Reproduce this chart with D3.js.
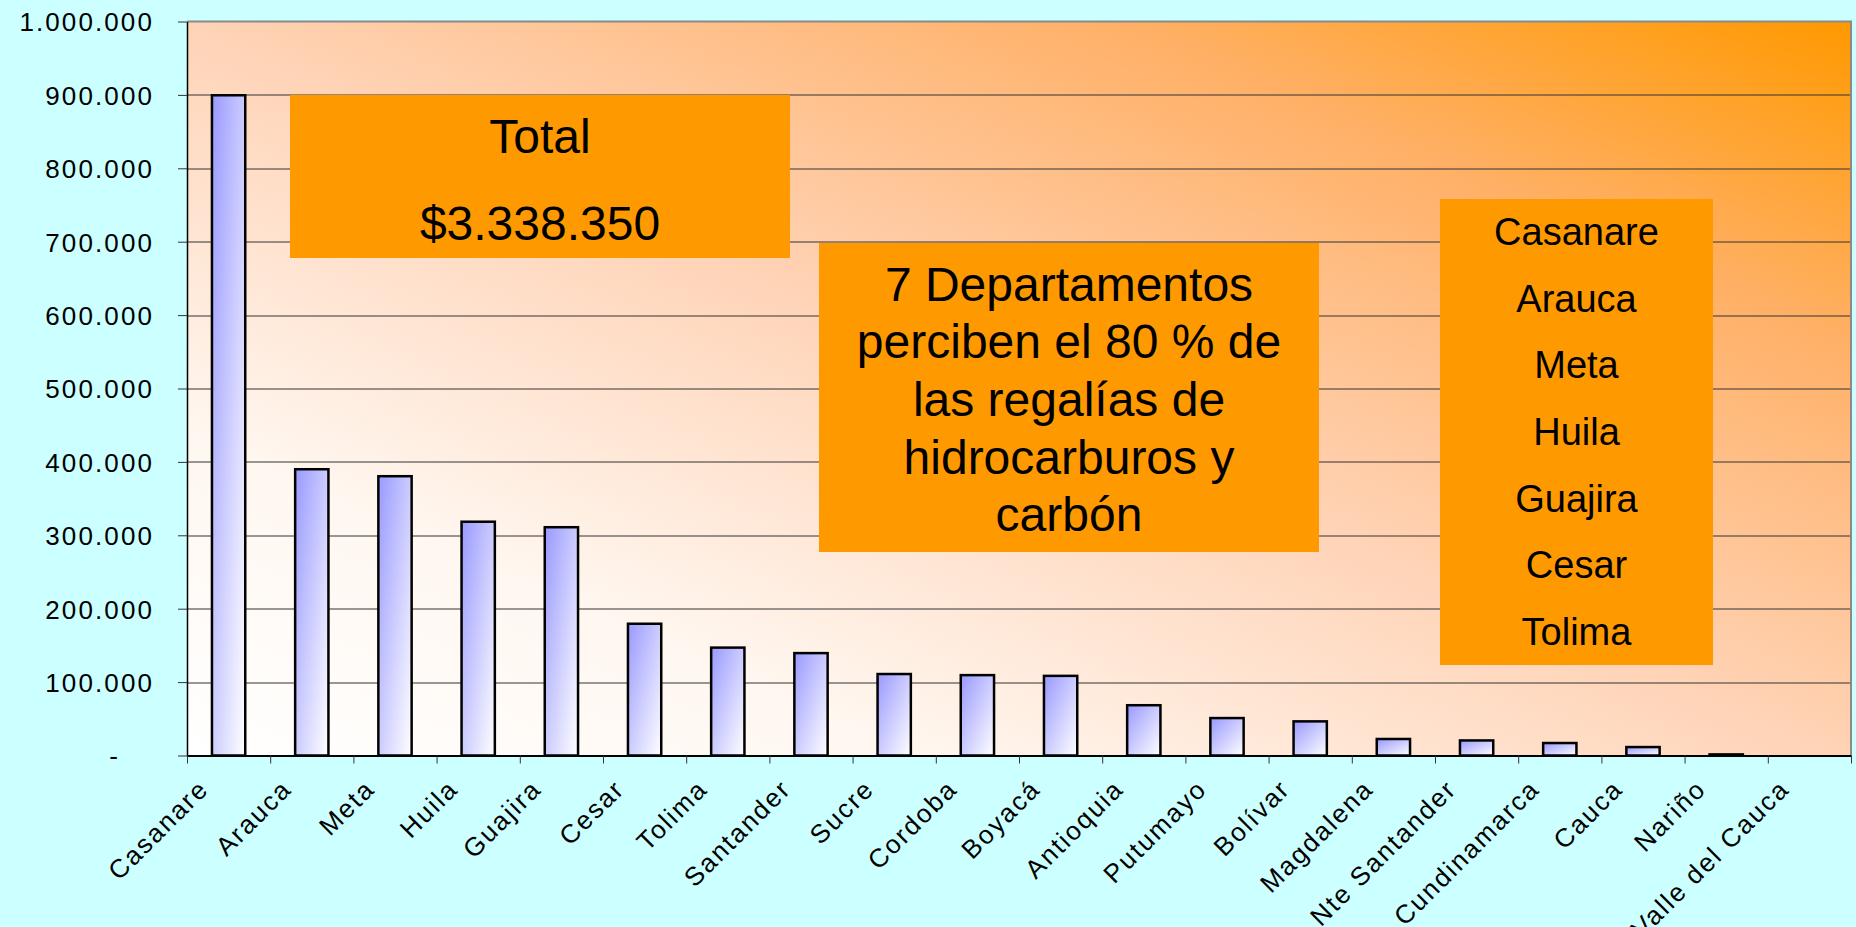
<!DOCTYPE html>
<html>
<head>
<meta charset="utf-8">
<script src="https://cdn.jsdelivr.net/npm/d3@7"></script>
<style>
    body { margin: 0; background: #ccffff; }
    svg { display: block; font-family: "Liberation Sans", Arial, Helvetica, sans-serif; }
</style>
</head>
<body>
<div id="chart"></div>
<script>
// departamentos, ordered as in the chart
var categories = ["Casanare", "Arauca", "Meta", "Huila", "Guajira", "Cesar", "Tolima", "Santander",
    "Sucre", "Cordoba", "Boyacá", "Antioquia", "Putumayo", "Bolívar", "Magdalena", "Nte Santander",
    "Cundinamarca", "Cauca", "Nariño", "Valle del Cauca"];

// regalías (millones de pesos)
var values = [899500, 390000, 380500, 318500, 311000, 179500, 147000, 139500,
    111000, 109500, 108500, 68500, 51000, 46500, 22500, 20500,
    17000, 11500, 1500, 0];

var yTicks = [0, 100000, 200000, 300000, 400000, 500000, 600000, 700000, 800000, 900000, 1000000];

var totalLines = ["Total", "$3.338.350"];
var noteLines = ["7 Departamentos", "perciben el 80 % de", "las regalías de", "hidrocarburos y", "carbón"];
var topDepartments = ["Casanare", "Arauca", "Meta", "Huila", "Guajira", "Cesar", "Tolima"];

(function () {
    var width = 1856, height = 927;
    var margin = {top: 21.5, right: 5, bottom: 171.5, left: 187};
    var w = width - margin.left - margin.right;
    var h = height - margin.top - margin.bottom;
    var ySpace = 2.1, xSpace = 2.0;
    var axisFont = "26px";

    var svg = d3.select("#chart")
        .append("svg")
        .attr("width", width)
        .attr("height", height);

    var defs = svg.append("defs");

    // plot background: orange in the top right corner, white in the bottom left
    var bg = defs.append("linearGradient")
        .attr("id", "plotBg")
        .attr("x1", "100%").attr("y1", "0%")
        .attr("x2", "0%").attr("y2", "100%");
    [[0, "#ff9900"], [0.22, "#ffb066"], [0.5, "#ffd3b6"], [0.78, "#fff7f0"], [1, "#ffffff"]].forEach(function (s) {
        bg.append("stop").attr("offset", s[0]).attr("stop-color", s[1]);
    });

    var barGrad = defs.append("linearGradient")
        .attr("id", "barFill")
        .attr("x1", "0%").attr("y1", "0%")
        .attr("x2", "100%").attr("y2", "100%");
    barGrad.append("stop").attr("offset", 0).attr("stop-color", "#9999ff");
    barGrad.append("stop").attr("offset", 1).attr("stop-color", "#ffffff");

    var g = svg.append("g")
        .attr("transform", "translate(" + margin.left + "," + margin.top + ")");

    var x = d3.scaleBand()
        .domain(categories)
        .range([0, w])
        .paddingInner(0.6)
        .paddingOuter(0.3);

    var y = d3.scaleLinear()
        .domain([0, 1000000])
        .range([h, 0]);

    g.append("rect")
        .attr("width", w)
        .attr("height", h)
        .attr("fill", "url(#plotBg)");

    // gridlines
    g.selectAll(".grid")
        .data(yTicks.filter(function (v) { return v > 0 && v < 1000000; }))
        .enter().append("line")
        .attr("class", "grid")
        .attr("x1", 0)
        .attr("x2", w)
        .attr("y1", function (d) { return Math.round(y(d)) + 0.5; })
        .attr("y2", function (d) { return Math.round(y(d)) + 0.5; })
        .attr("stroke", "#333")
        .attr("stroke-width", 1);

    // plot border, top and right
    g.append("path")
        .attr("d", "M0,0H" + w + "V" + h)
        .attr("fill", "none")
        .attr("stroke", "#8a8a8a")
        .attr("stroke-width", 2);

    g.selectAll(".bar")
        .data(values.map(function (v, i) { return {name: categories[i], value: v}; })
            .filter(function (d) { return d.value > 0; }))
        .enter().append("rect")
        .attr("class", "bar")
        .attr("x", function (d) { return x(d.name); })
        .attr("y", function (d) { return y(d.value); })
        .attr("width", x.bandwidth())
        .attr("height", function (d) { return h - y(d.value); })
        .attr("fill", "url(#barFill)")
        .attr("stroke", "#000")
        .attr("stroke-width", 2.5);

    // y axis, numbers with dots as thousands separator
    var fmt = d3.formatLocale({decimal: ",", thousands: ".", grouping: [3], currency: ["$", ""]}).format(",d");
    var yAxis = g.append("g")
        .attr("class", "axis axis--y")
        .call(d3.axisLeft(y)
            .tickValues(yTicks)
            .tickSize(9)
            .tickSizeOuter(0)
            .tickPadding(24)
            .tickFormat(function (d) { return d === 0 ? "-" : fmt(d); }));
    yAxis.select(".domain").attr("stroke", "#000").attr("stroke-width", 1.5);
    yAxis.selectAll(".tick line").attr("stroke", "#333");
    yAxis.selectAll(".tick text")
        .attr("fill", "#000")
        .style("font-size", axisFont)
        .style("letter-spacing", ySpace + "px")
        .attr("dy", "0.36em");
    yAxis.selectAll(".tick text")
        .filter(function (d) { return d === 0; })
        .attr("dx", -34);

    // category boundaries on the x axis
    var edges = d3.scaleLinear().domain([0, categories.length]).range([0, w]);
    var xAxis = g.append("g")
        .attr("class", "axis axis--x")
        .attr("transform", "translate(0," + h + ")")
        .call(d3.axisBottom(edges)
            .tickValues(d3.range(categories.length + 1))
            .tickSize(8)
            .tickSizeOuter(0)
            .tickFormat(""));
    xAxis.select(".domain").attr("stroke", "#000").attr("stroke-width", 2);
    xAxis.selectAll(".tick line").attr("stroke", "#333");

    g.append("g")
        .attr("class", "labels")
        .attr("transform", "translate(0," + h + ")")
        .selectAll("text")
        .data(categories)
        .enter().append("text")
        .attr("transform", function (d) {
            return "translate(" + (x(d) + x.bandwidth() / 2 - 20) + ",36.5) rotate(-45)";
        })
        .attr("dx", xSpace)
        .attr("text-anchor", "end")
        .style("font-size", axisFont)
        .style("letter-spacing", xSpace + "px")
        .text(function (d) { return d; });

    // orange notes over the plot
    function note(x0, y0, x1, y1, lines, size, firstBase, step) {
        var b = svg.append("g").attr("class", "note");
        b.append("rect")
            .attr("x", x0).attr("y", y0)
            .attr("width", x1 - x0).attr("height", y1 - y0)
            .attr("fill", "#ff9900");
        b.selectAll("text")
            .data(lines)
            .enter().append("text")
            .attr("x", (x0 + x1) / 2)
            .attr("y", function (d, i) { return firstBase + i * step; })
            .attr("text-anchor", "middle")
            .style("font-size", size + "px")
            .text(function (d) { return d; });
    }

    note(290, 95, 790, 258, totalLines, 48, 152.7, 87.3);
    note(819, 243, 1319, 552, noteLines, 48, 300.7, 57.6);
    note(1440, 199, 1713, 665, topDepartments, 38, 245, 66.67);
}());
</script>
</body>
</html>
